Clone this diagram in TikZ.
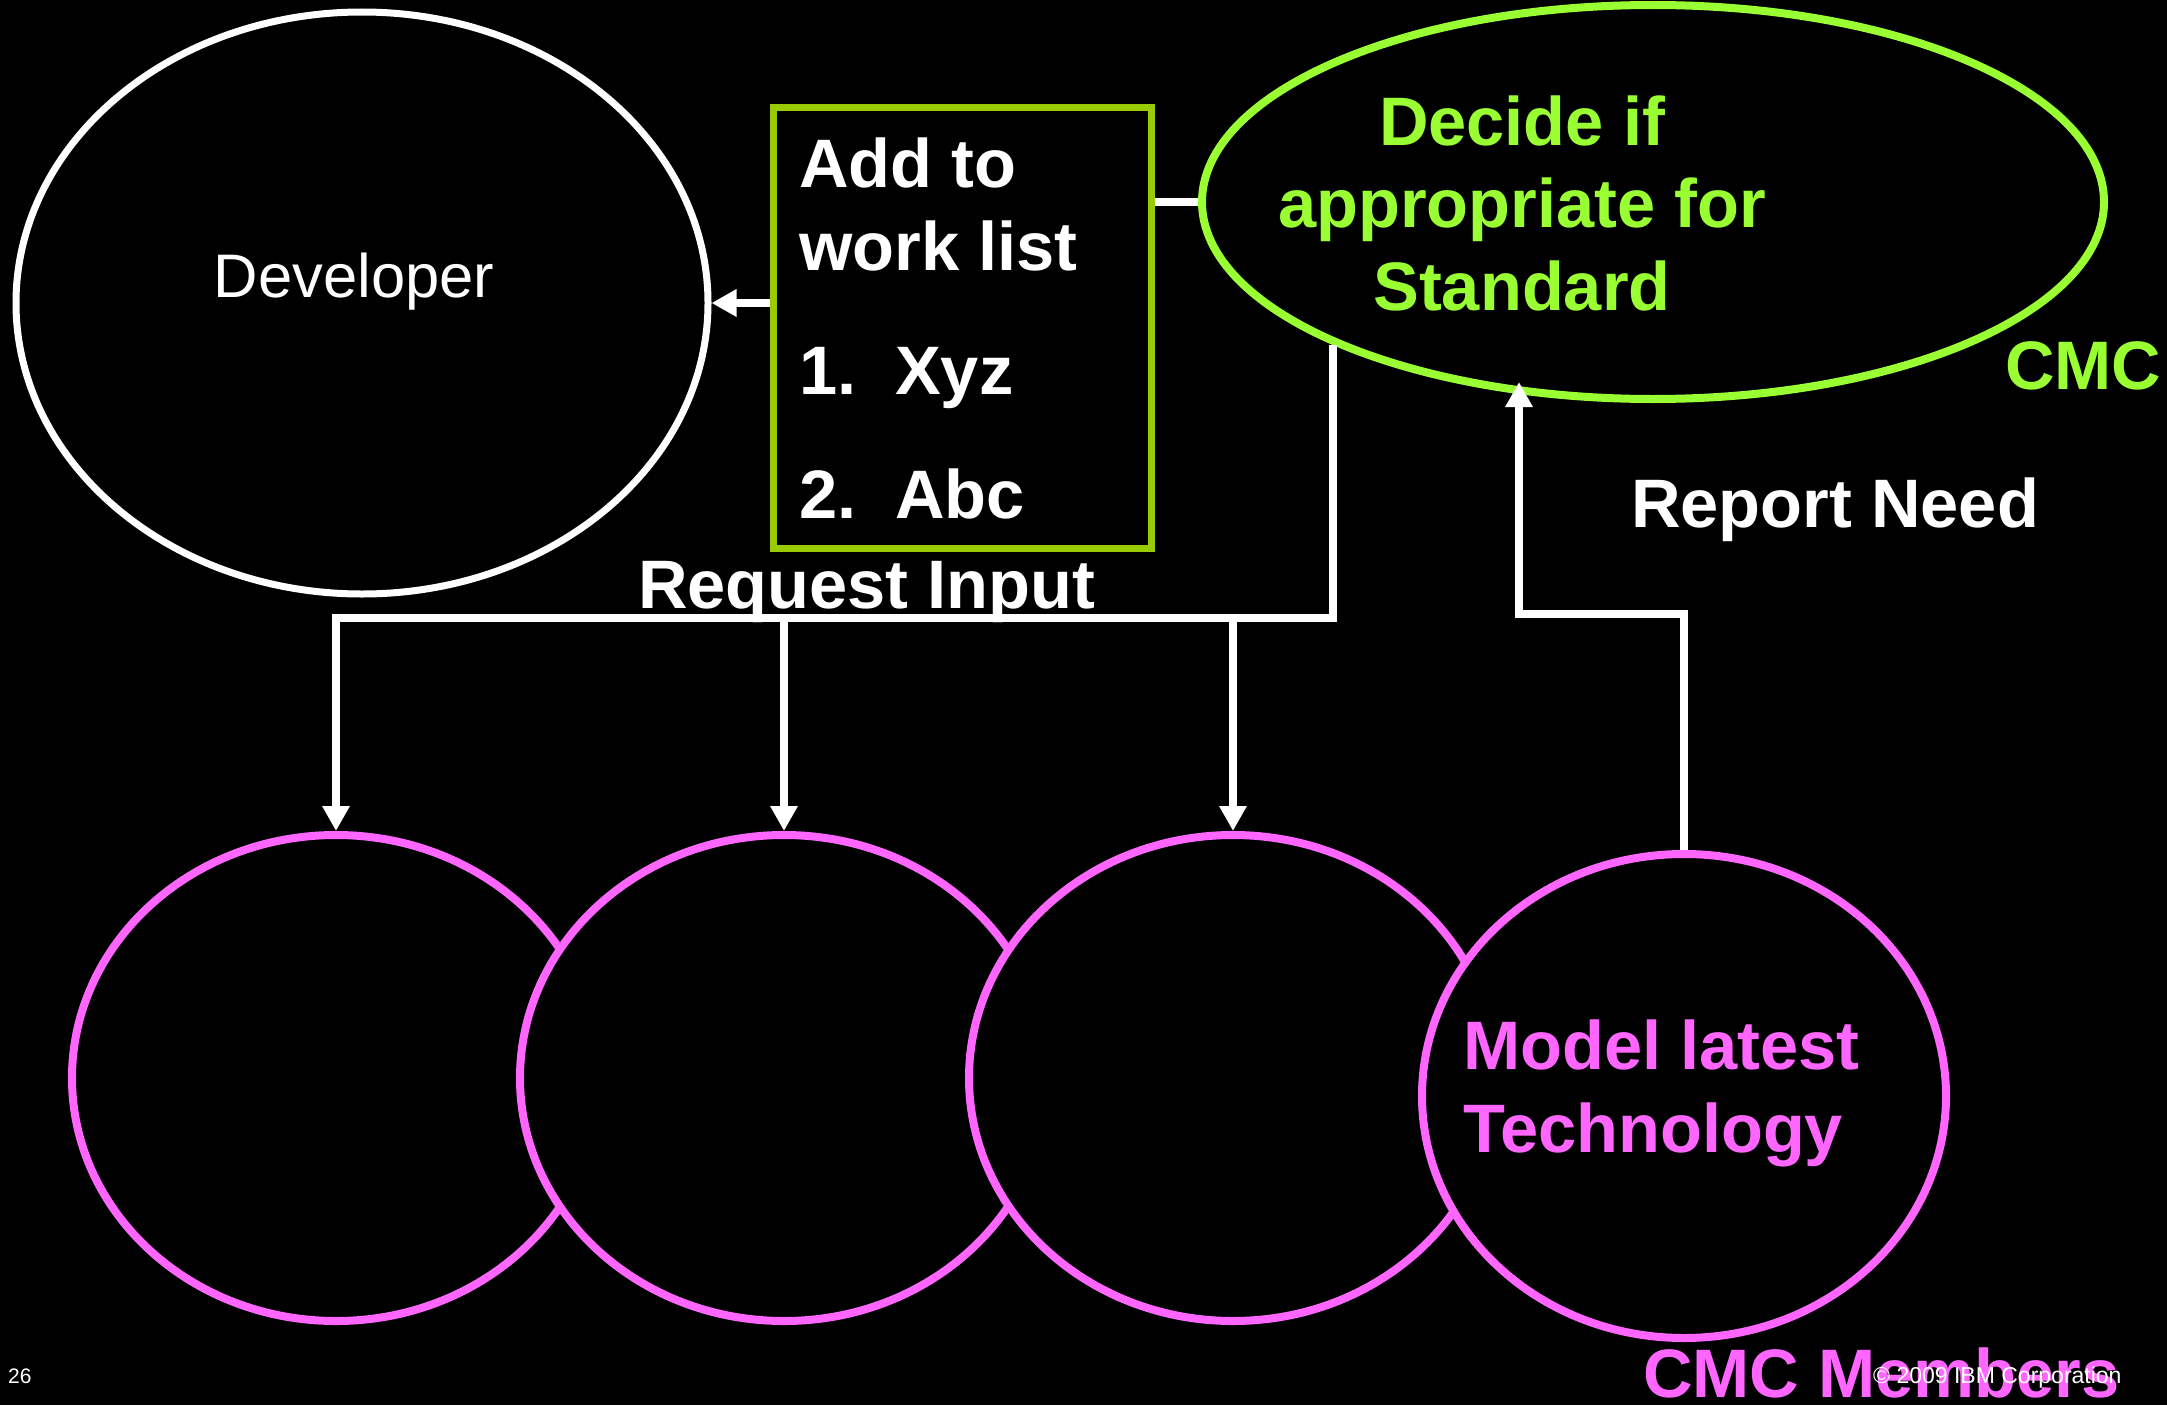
\documentclass[tikz,border=0pt]{standalone}
\usepackage{fontspec}
\setmainfont{Liberation Sans}
\usetikzlibrary{shapes.geometric,arrows.meta,calc}
\definecolor{pinkc}{HTML}{FF66FF}
\definecolor{limec}{HTML}{99FF33}
\definecolor{olivec}{HTML}{99CC00}
\begin{document}
\begin{tikzpicture}[x=1pt,y=-1pt,
  big/.style={font=\fontsize{68.6}{82}\selectfont\bfseries, inner sep=0pt, text=white},
  small/.style={font=\fontsize{21}{25}\selectfont, inner sep=0pt, text=white},
  conn/.style={draw=white, line width=8pt, line join=miter},
  arr/.style={conn, -{Triangle[width=26pt,length=25pt]}},
  oval/.style={ellipse, inner sep=0pt},
  member/.style={oval, draw=pinkc, fill=black, line width=8pt, minimum width=528pt, minimum height=486pt}]
\fill[black] (0,0) rectangle (2167,1405);
\useasboundingbox (0,0) rectangle (2167,1405);

% main shapes
\node[oval, draw=white, line width=7pt, minimum width=692pt, minimum height=582pt] (dev) at (362,303) {};
\node[draw=olivec, line width=7pt, minimum width=378pt, minimum height=441pt, inner sep=0pt] (box) at (962,327.5) {};
\node[oval, draw=limec, line width=8pt, minimum width=902pt, minimum height=394pt] (decide) at (1653,202) {};

\node[member] (m1) at (336,1078) {};
\node[member] (m2) at (784,1078) {};
\node[member] (m3) at (1233,1078) {};
\node[member, minimum width=524pt, minimum height=484pt] (m4) at (1684,1096) {};

% connectors
\coordinate (rj) at (0,618);
\coordinate (rn) at (1519,614);
\draw[arr] (box.west |- dev.east) -- (dev.east);
\draw[conn] (box.east |- decide.west) -- (decide.west);
\draw[arr] (decide.204) |- (m1.north |- rj) -- (m1.north);
\draw[arr] (m2.north |- rj) -- (m2.north);
\draw[arr] (m3.north |- rj) -- (m3.north);
\draw[arr, shorten >=-12pt] (m4.north) |- (rn) -- (rn |- decide.235);

% texts
\node[inner sep=0pt, text=white, font=\fontsize{61.5}{74}\selectfont, anchor=base] (devlabel) at (354,297) {Developer};

\node[big, anchor=base west] (t1) at (799,187) {Add to};
\node[big, anchor=base west] (t2) at (799,270) {work list};
\node[big, anchor=base west] (t3) at (799,394) {\makebox[96pt][l]{1.}Xyz};
\node[big, anchor=base west] (t4) at (799,518) {\makebox[96pt][l]{2.}Abc};

\node[big, text=limec, anchor=base] (d1) at (1522,145) {Decide if};
\node[big, text=limec, anchor=base] (d2) at (1522,227) {appropriate for};
\node[big, text=limec, anchor=base] (d3) at (1522,310) {Standard};
\node[big, text=limec, anchor=base west] (cmc) at (2005,389) {CMC};

\node[big, anchor=base west] (report) at (1631,527) {Report Need};
\node[big, anchor=base west] (request) at (638,608) {Request Input};

\node[big, text=pinkc, anchor=base west] (p1) at (1463,1069) {Model latest};
\node[big, text=pinkc, anchor=base west] (p2) at (1463,1152) {Technology};
\node[big, text=pinkc, anchor=base west] (members) at (1643,1397) {CMC Members};

\node[small, anchor=base west] (page) at (8,1383) {26};
\node[small, font=\fontsize{23}{27}\selectfont, anchor=base west] (copy) at (1873,1383) {© 2009 IBM Corporation};
\end{tikzpicture}
\end{document}
